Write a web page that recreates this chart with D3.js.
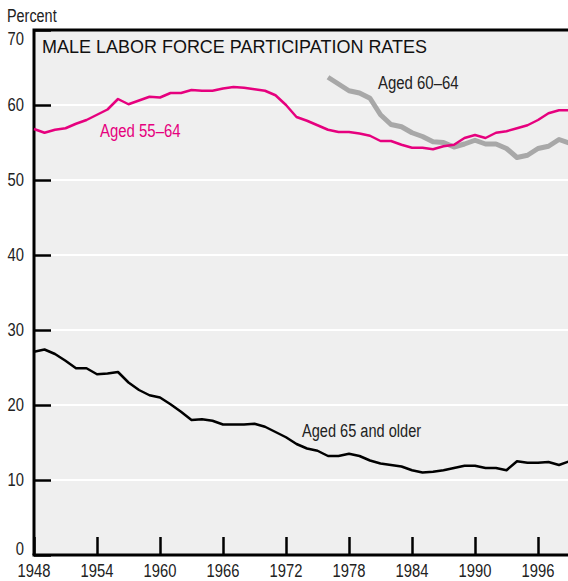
<!DOCTYPE html>
<html>
<head>
<meta charset="utf-8">
<script src="https://cdn.jsdelivr.net/npm/d3@7"></script>
<style>
  body { margin: 0; background: #fff; }
  svg text { font-family: "Liberation Sans", Arial, sans-serif; }
</style>
</head>
<body>
<div id="chart"></div>
<script>
// data
var yearsAll = d3.range(1948, 2000);
var aged55to64 = [56.8, 56.3, 56.7, 56.9, 57.5, 58.0, 58.7, 59.4, 60.8, 60.1,
    60.6, 61.1, 61.0, 61.6, 61.6, 62.0, 61.9, 61.9, 62.2, 62.4,
    62.3, 62.1, 61.9, 61.3, 60.0, 58.4, 57.9, 57.3, 56.7, 56.4,
    56.4, 56.2, 55.9, 55.2, 55.2, 54.7, 54.3, 54.3, 54.1, 54.5,
    54.7, 55.6, 56.0, 55.6, 56.3, 56.5, 56.9, 57.3, 58.0, 58.9,
    59.3, 59.3];
var years60to64 = d3.range(1976, 2000);
var aged60to64 = [63.7, 62.8, 61.9, 61.6, 60.9, 58.7, 57.4, 57.1, 56.3, 55.8,
    55.1, 55.0, 54.4, 54.8, 55.3, 54.8, 54.8, 54.2, 53.0, 53.3,
    54.2, 54.5, 55.4, 54.9];
var aged65plus = [27.1, 27.4, 26.8, 25.9, 24.9, 24.9, 24.1, 24.2, 24.4, 23.0,
    22.0, 21.3, 21.0, 20.1, 19.1, 18.0, 18.1, 17.9, 17.4, 17.4,
    17.4, 17.5, 17.1, 16.4, 15.7, 14.8, 14.2, 13.9, 13.2, 13.2,
    13.5, 13.2, 12.6, 12.2, 12.0, 11.8, 11.3, 11.0, 11.1, 11.3,
    11.6, 11.9, 11.9, 11.6, 11.6, 11.3, 12.5, 12.3, 12.3, 12.4,
    12.0, 12.5];
var yTicks = [0, 10, 20, 30, 40, 50, 60, 70];
var xTicks = [1948, 1954, 1960, 1966, 1972, 1978, 1984, 1990, 1996];

var width = 568, height = 581;
var plotLeft = 34, plotTop = 30, plotBottom = 555;

// no narrow font installed, so squeeze the regular one
var condense = function (sel, f) {
    sel.each(function () {
        var w = this.getComputedTextLength();
        d3.select(this).attr("textLength", w * f).attr("lengthAdjust", "spacingAndGlyphs");
    });
};

var svg = d3.select("#chart")
    .append("svg")
    .attr("width", width)
    .attr("height", height);

var x = d3.scaleLinear().domain([1948, 1999]).range([plotLeft, plotLeft + 10.5 * 51]);
var y = d3.scaleLinear().domain([0, 70]).range([plotBottom, plotTop]);

svg.append("rect")
    .attr("x", plotLeft).attr("y", plotTop)
    .attr("width", width - plotLeft).attr("height", plotBottom - plotTop)
    .attr("fill", "#efefef");

// white gridlines
svg.selectAll(".grid").data(yTicks.slice(1, -1)).enter()
    .append("line")
    .attr("x1", plotLeft).attr("x2", width)
    .attr("y1", function (d) { return y(d); })
    .attr("y2", function (d) { return y(d); })
    .attr("stroke", "#fff").attr("stroke-width", 2);

// y axis with inward ticks
var yAxis = svg.append("g")
    .attr("transform", "translate(" + plotLeft + ",0)")
    .call(d3.axisRight(y).tickValues(yTicks).tickSize(17).tickFormat(""));
yAxis.select(".domain").remove();
yAxis.selectAll("line").attr("stroke", "#000").attr("stroke-width", 2.5);

svg.selectAll(".ylab").data(yTicks).enter()
    .append("text")
    .attr("x", 24)
    .attr("y", function (d) {
        if (d === 70) return y(d) + 15;
        if (d === 0) return y(d);
        return y(d) + 6;
    })
    .attr("text-anchor", "end")
    .attr("font-size", 18).attr("fill", "#222")
    .text(function (d) { return d; })
    .call(condense, 0.82);

// x axis with upward ticks
var xAxis = svg.append("g")
    .attr("transform", "translate(0," + plotBottom + ")")
    .call(d3.axisTop(x).tickValues(xTicks).tickSize(18).tickFormat(""));
xAxis.select(".domain").remove();
xAxis.selectAll("line").attr("stroke", "#000").attr("stroke-width", 2.5);

svg.selectAll(".xlab").data(xTicks).enter()
    .append("text")
    .attr("x", function (d) { return x(d); }).attr("y", 577)
    .attr("text-anchor", "middle")
    .attr("font-size", 18).attr("fill", "#222")
    .text(function (d) { return d; })
    .call(condense, 0.82);

// frame: left, top, bottom
svg.append("path")
    .attr("d", "M" + plotLeft + "," + plotBottom + "V" + plotTop + "H" + width)
    .attr("fill", "none").attr("stroke", "#000").attr("stroke-width", 3);
svg.append("line")
    .attr("x1", plotLeft - 1.5).attr("x2", width)
    .attr("y1", plotBottom).attr("y2", plotBottom)
    .attr("stroke", "#000").attr("stroke-width", 3);

var line = d3.line()
    .x(function (d) { return x(d[0]); })
    .y(function (d) { return y(d[1]); });

svg.append("path")
    .datum(d3.zip(years60to64, aged60to64))
    .attr("d", line)
    .attr("fill", "none").attr("stroke", "#a8a8a8").attr("stroke-width", 5)
    .attr("stroke-linejoin", "round");
svg.append("path")
    .datum(d3.zip(yearsAll, aged55to64))
    .attr("d", line)
    .attr("fill", "none").attr("stroke", "#e6007e").attr("stroke-width", 2.5)
    .attr("stroke-linejoin", "round");
svg.append("path")
    .datum(d3.zip(yearsAll, aged65plus))
    .attr("d", line)
    .attr("fill", "none").attr("stroke", "#000").attr("stroke-width", 2.5)
    .attr("stroke-linejoin", "round");

// labels
svg.append("text").attr("x", 7).attr("y", 22)
    .attr("font-size", 18).attr("fill", "#222").text("Percent")
    .call(condense, 0.8);
svg.append("text").attr("x", 42).attr("y", 53)
    .attr("font-size", 19).attr("fill", "#111")
    .attr("textLength", 385).attr("lengthAdjust", "spacingAndGlyphs")
    .text("MALE LABOR FORCE PARTICIPATION RATES");
svg.append("text").attr("x", 100).attr("y", 137)
    .attr("font-size", 18).attr("fill", "#e6007e").text("Aged 55\u201364")
    .call(condense, 0.83);
svg.append("text").attr("x", 378).attr("y", 89)
    .attr("font-size", 18).attr("fill", "#222").text("Aged 60\u201364")
    .call(condense, 0.83);
svg.append("text").attr("x", 302).attr("y", 437)
    .attr("font-size", 18).attr("fill", "#222").text("Aged 65 and older")
    .call(condense, 0.81);
</script>
</body>
</html>
